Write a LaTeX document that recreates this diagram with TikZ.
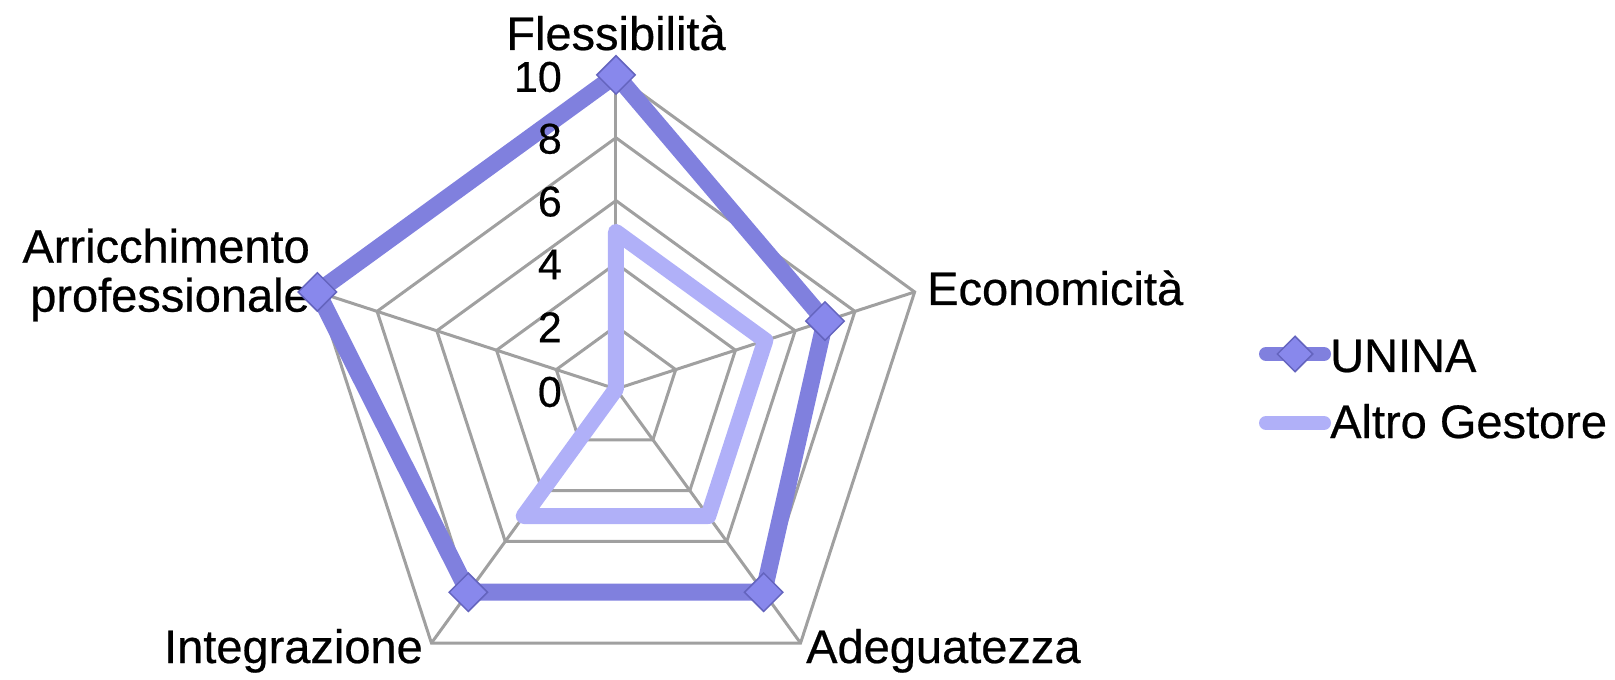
\documentclass[tikz,border=0pt]{standalone}
\usepackage{fontspec}
\setmainfont{Liberation Sans}[FakeBold=0.5]
\usetikzlibrary{shapes.geometric,calc}

\definecolor{uninacol}{RGB}{128,128,222}
\definecolor{altrocol}{RGB}{176,176,248}
\definecolor{gridcol}{RGB}{160,160,160}
\definecolor{diafill}{RGB}{136,136,236}
\definecolor{diadraw}{RGB}{100,100,190}

\begin{document}
\begin{tikzpicture}[x=1pt, y=1pt,
    grid/.style={draw=gridcol, line width=3pt},
    unina/.style={draw=uninacol, line width=17pt, line join=round},
    altro/.style={draw=altrocol, line width=16pt, line join=round},
    diamondmark/.style={diamond, fill=diafill, draw=diadraw, line width=1.5pt, inner sep=0pt, minimum size=39pt},
    lbl/.style={font=\fontsize{47}{49}\selectfont, inner sep=0pt},
    tick/.style={font=\fontsize{43}{45}\selectfont, inner sep=0pt, anchor=east}]
      \useasboundingbox (-616,-291) rectangle (999,389);
      \coordinate (c) at (0,0);

      % grid rings
      \draw[grid] (90:62.8) -- (18:62.8) -- (-54:62.8) -- (-126:62.8) -- (162:62.8) -- cycle;
      \draw[grid] (90:125.6) -- (18:125.6) -- (-54:125.6) -- (-126:125.6) -- (162:125.6) -- cycle;
      \draw[grid] (90:188.4) -- (18:188.4) -- (-54:188.4) -- (-126:188.4) -- (162:188.4) -- cycle;
      \draw[grid] (90:251.2) -- (18:251.2) -- (-54:251.2) -- (-126:251.2) -- (162:251.2) -- cycle;
      \draw[grid] (90:314) coordinate (a_1) -- (18:314) coordinate (a_2) -- (-54:314) coordinate (a_3)
        -- (-126:314) coordinate (a_4) -- (162:314) coordinate (a_5) -- cycle;

      % spokes
      \draw[grid] (c) -- (a_1);
      \draw[grid] (c) -- (a_2);
      \draw[grid] (c) -- (a_3);
      \draw[grid] (c) -- (a_4);
      \draw[grid] (c) -- (a_5);

      % categories
      \node[lbl, anchor=base] (flex) at (0,339) {Flessibilità};
      \node[lbl, anchor=base west] (econ) at (311,84) {Economicità};
      \node[lbl, anchor=base west] (adeg) at (190,-274) {Adeguatezza};
      \node[lbl, anchor=base east] (integ) at (-193,-274) {Integrazione};
      \node[lbl, anchor=east, align=right] (arr) at (-306,114) {Arricchimento\\professionale};

      % data
      \coordinate (g_1) at (90:157);
      \coordinate (g_2) at (18:157);
      \coordinate (g_3) at (-54:157);
      \coordinate (g_4) at (-126:157);
      \coordinate (g_5) at (c);
      \draw[altro] (g_1) -- (g_2) -- (g_3) -- (g_4) -- (g_5) -- cycle;

      \coordinate (u_1) at (90:314);
      \coordinate (u_2) at (18:219.8);
      \coordinate (u_3) at (-54:251.2);
      \coordinate (u_4) at (-126:251.2);
      \coordinate (u_5) at (162:314);
      \draw[unina] (u_1) -- (u_2) -- (u_3) -- (u_4) -- (u_5) -- cycle;

      \node[diamondmark] (d_1) at (u_1) {};
      \node[diamondmark] (d_2) at (u_2) {};
      \node[diamondmark] (d_3) at (u_3) {};
      \node[diamondmark] (d_4) at (u_4) {};
      \node[diamondmark] (d_5) at (u_5) {};

      % axis values
      \node[tick] (t_0) at (-54,-3) {0};
      \node[tick] (t_2) at (-54,61.8) {2};
      \node[tick] (t_4) at (-54,124.6) {4};
      \node[tick] (t_6) at (-54,187.4) {6};
      \node[tick] (t_8) at (-54,250.2) {8};
      \node[tick] (t_10) at (-54,312) {10};

      % legend
      \coordinate (lu_a) at (650,35);
      \coordinate (lu_b) at (708,35);
      \draw[unina, line width=14pt, line cap=round] (lu_a) -- (lu_b);
      \node[diamondmark, minimum size=36pt] (ld) at ($(lu_a)!.5!(lu_b)$) {};
      \node[lbl, anchor=base west] (leg_u) at (714,17) {UNINA};

      \coordinate (la_a) at (650,-34);
      \coordinate (la_b) at (708,-34);
      \draw[altro, line width=14pt, line cap=round] (la_a) -- (la_b);
      \node[lbl, anchor=base west] (leg_a) at (714,-49) {Altro Gestore};
\end{tikzpicture}
\end{document}
